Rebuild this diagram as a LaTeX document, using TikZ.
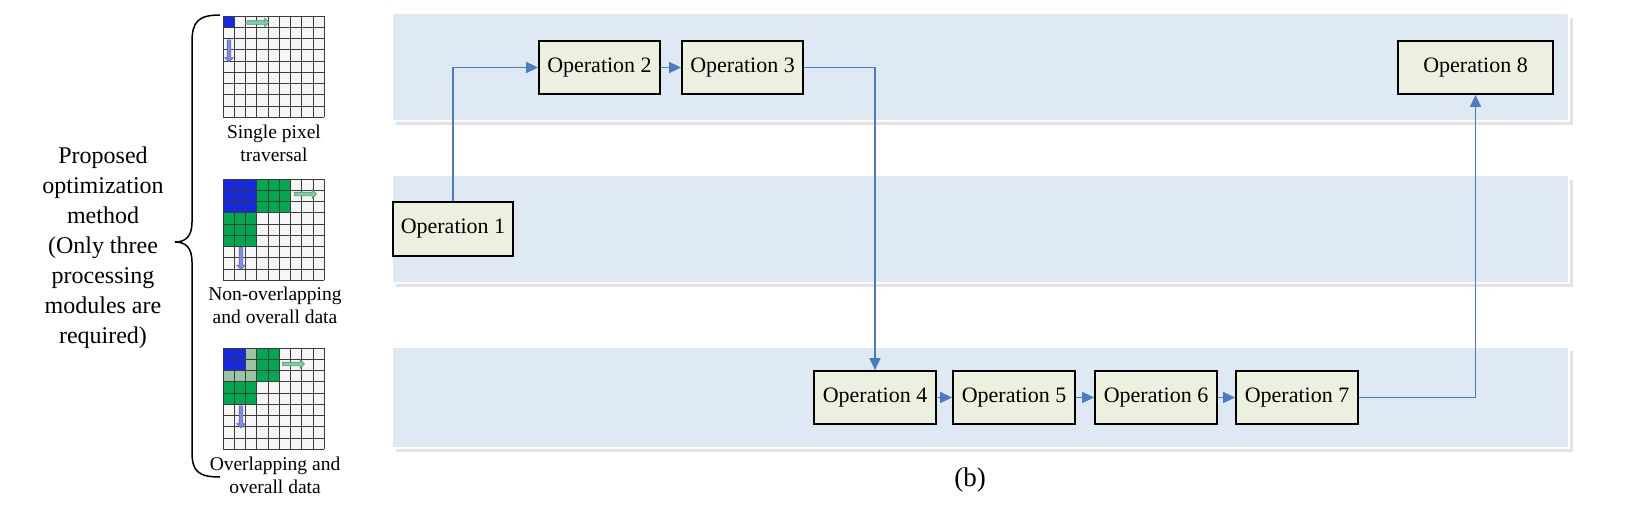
\documentclass[tikz,border=0pt]{standalone}
\usepackage{fontspec}
\setmainfont{Liberation Serif}
\usetikzlibrary{arrows.meta,shapes.arrows}
\definecolor{band}{RGB}{223,233,244}
\definecolor{bandsh}{RGB}{226,226,226}
\definecolor{boxfill}{RGB}{235,241,222}
\definecolor{connc}{RGB}{74,124,196}
\definecolor{pblue}{RGB}{20,40,230}
\definecolor{pgreen}{RGB}{0,168,80}
\definecolor{povl}{RGB}{155,196,165}
\definecolor{cellbg}{RGB}{246,246,246}
\definecolor{gridln}{RGB}{60,60,60}
\definecolor{agreen}{RGB}{128,205,165}
\definecolor{agreend}{RGB}{80,150,110}
\definecolor{ablue}{RGB}{128,140,230}
\definecolor{ablued}{RGB}{90,100,200}
\def\cw{11.25}
\newcommand\pixgrid[2]{%
  \fill[cellbg] (#1,#2) rectangle ++(101.25,101.25);}
\newcommand\pixlines[2]{%
  \foreach \k in {0,...,9}{%
    \draw[gridln,line width=0.8pt] ({#1+\k*\cw},#2) -- ++(0,101.25);
    \draw[gridln,line width=0.8pt] (#1,{#2+\k*\cw}) -- ++(101.25,0);}}
\newcommand\pcell[5]{\fill[#5] ({#1+(#3)*\cw},{#2+(#4)*\cw}) rectangle ++(\cw,\cw);}
\begin{document}
\begin{tikzpicture}[x=1pt,y=-1pt,
  opbox/.style={draw=black, line width=1.8pt, fill=boxfill, minimum height=53pt, minimum width=121pt, inner sep=0pt, font=\fontsize{22}{26}\selectfont},
  connline/.style={draw=connc, line width=1.6pt, -{Triangle[length=12pt,width=11pt]}},
  bandbox/.style={fill=band, draw=white, line width=1.2pt},
  bandshadow/.style={fill=bandsh},
  garrow/.style={single arrow, draw=agreend, fill=agreen, minimum height=22pt, single arrow head extend=2.5pt, inner sep=1.5pt, line width=0.6pt},
  barrow/.style={single arrow, draw=ablued, fill=ablue, minimum height=22pt, single arrow head extend=2.5pt, inner sep=1.5pt, line width=0.6pt, rotate=-90},
  gridlabel/.style={align=center, font=\fontsize{19.5}{23}\selectfont, inner sep=0pt}]
\useasboundingbox (0,0) rectangle (1642,504);

% bands
\fill[bandshadow] (396,17.5) rectangle (1573,125);
\draw[bandbox] (392,13.5) rectangle (1569,121);
\fill[bandshadow] (396,179.5) rectangle (1573,287);
\draw[bandbox] (392,175.5) rectangle (1569,283);
\fill[bandshadow] (396,351) rectangle (1573,452);
\draw[bandbox] (392,347) rectangle (1569,448);

% operation boxes
\node[opbox, minimum width=120pt, minimum height=54pt] (op1) at (453,229) {Operation 1};
\node[opbox] (op2) at (599.5,67.5) {Operation 2};
\node[opbox] (op3) at (742.5,67.5) {Operation 3};
\node[opbox, minimum width=155pt] (op8) at (1475.5,67.5) {Operation 8};
\node[opbox, minimum width=122pt] (op4) at (875,397.5) {Operation 4};
\node[opbox, minimum width=122pt] (op5) at (1014,397.5) {Operation 5};
\node[opbox, minimum width=122pt] (op6) at (1156,397.5) {Operation 6};
\node[opbox, minimum width=122pt] (op7) at (1297,397.5) {Operation 7};

% connectors
\draw[connline] (op1.north) |- (op2.west);
\draw[connline] (op2) -- (op3);
\draw[connline] (op3.east) -| (op4.north);
\draw[connline] (op4) -- (op5);
\draw[connline] (op5) -- (op6);
\draw[connline] (op6) -- (op7);
\draw[connline] (op7.east) -| (op8.south);

% left text and brace
\node[align=center, font=\fontsize{24}{30}\selectfont] (lefttxt) at (103,248) {Proposed\\optimization\\method\\(Only three\\processing\\modules are\\required)};
\draw[line width=1.5pt] (220,15) .. controls (198,15) and (192,22) .. (192,42) -- (192,222)
  .. controls (192,236) and (186,242) .. (175,242)
  .. controls (186,242) and (192,248) .. (192,262) -- (192,452)
  .. controls (192,471) and (198,477) .. (220,477);

% grid 1
\pixgrid{223}{16}
\pcell{223}{16}{0}{0}{pblue}
\pixlines{223}{16}
\node[garrow] (g1r) at (257,22.5) {};
\node[barrow] (g1d) at (229,50) {};
\node[gridlabel] (lab1) at (274,143.5) {Single pixel\\traversal};

% grid 2
\pixgrid{223}{179}
\foreach \i in {0,1,2}{\foreach \j in {0,1,2}{
  \pcell{223}{179}{\i}{\j}{pblue}
  \pcell{223}{179}{\i+3}{\j}{pgreen}
  \pcell{223}{179}{\i}{\j+3}{pgreen}}}
\pixlines{223}{179}
\node[garrow] (g2r) at (304.5,194) {};
\node[barrow] (g2d) at (241,257.5) {};
\node[gridlabel] (lab2) at (275,305.5) {Non-overlapping\\and overall data};

% grid 3
\pixgrid{223}{348}
\foreach \i in {0,1,2}{\foreach \j in {0,1,2}{
  \pcell{223}{348}{\i+2}{\j}{pgreen}
  \pcell{223}{348}{\i}{\j+2}{pgreen}}}
\foreach \i in {0,1,2}{\pcell{223}{348}{2}{\i}{povl}\pcell{223}{348}{\i}{2}{povl}}
\foreach \i in {0,1}{\foreach \j in {0,1}{\pcell{223}{348}{\i}{\j}{pblue}}}
\pixlines{223}{348}
\node[garrow] (g3r) at (292.5,364) {};
\node[barrow] (g3d) at (241,416) {};
\node[gridlabel] (lab3) at (275,475) {Overlapping and\\overall data};

% caption
\node[font=\fontsize{27}{32}\selectfont] (cap) at (970,480) {(b)};
\end{tikzpicture}
\end{document}
